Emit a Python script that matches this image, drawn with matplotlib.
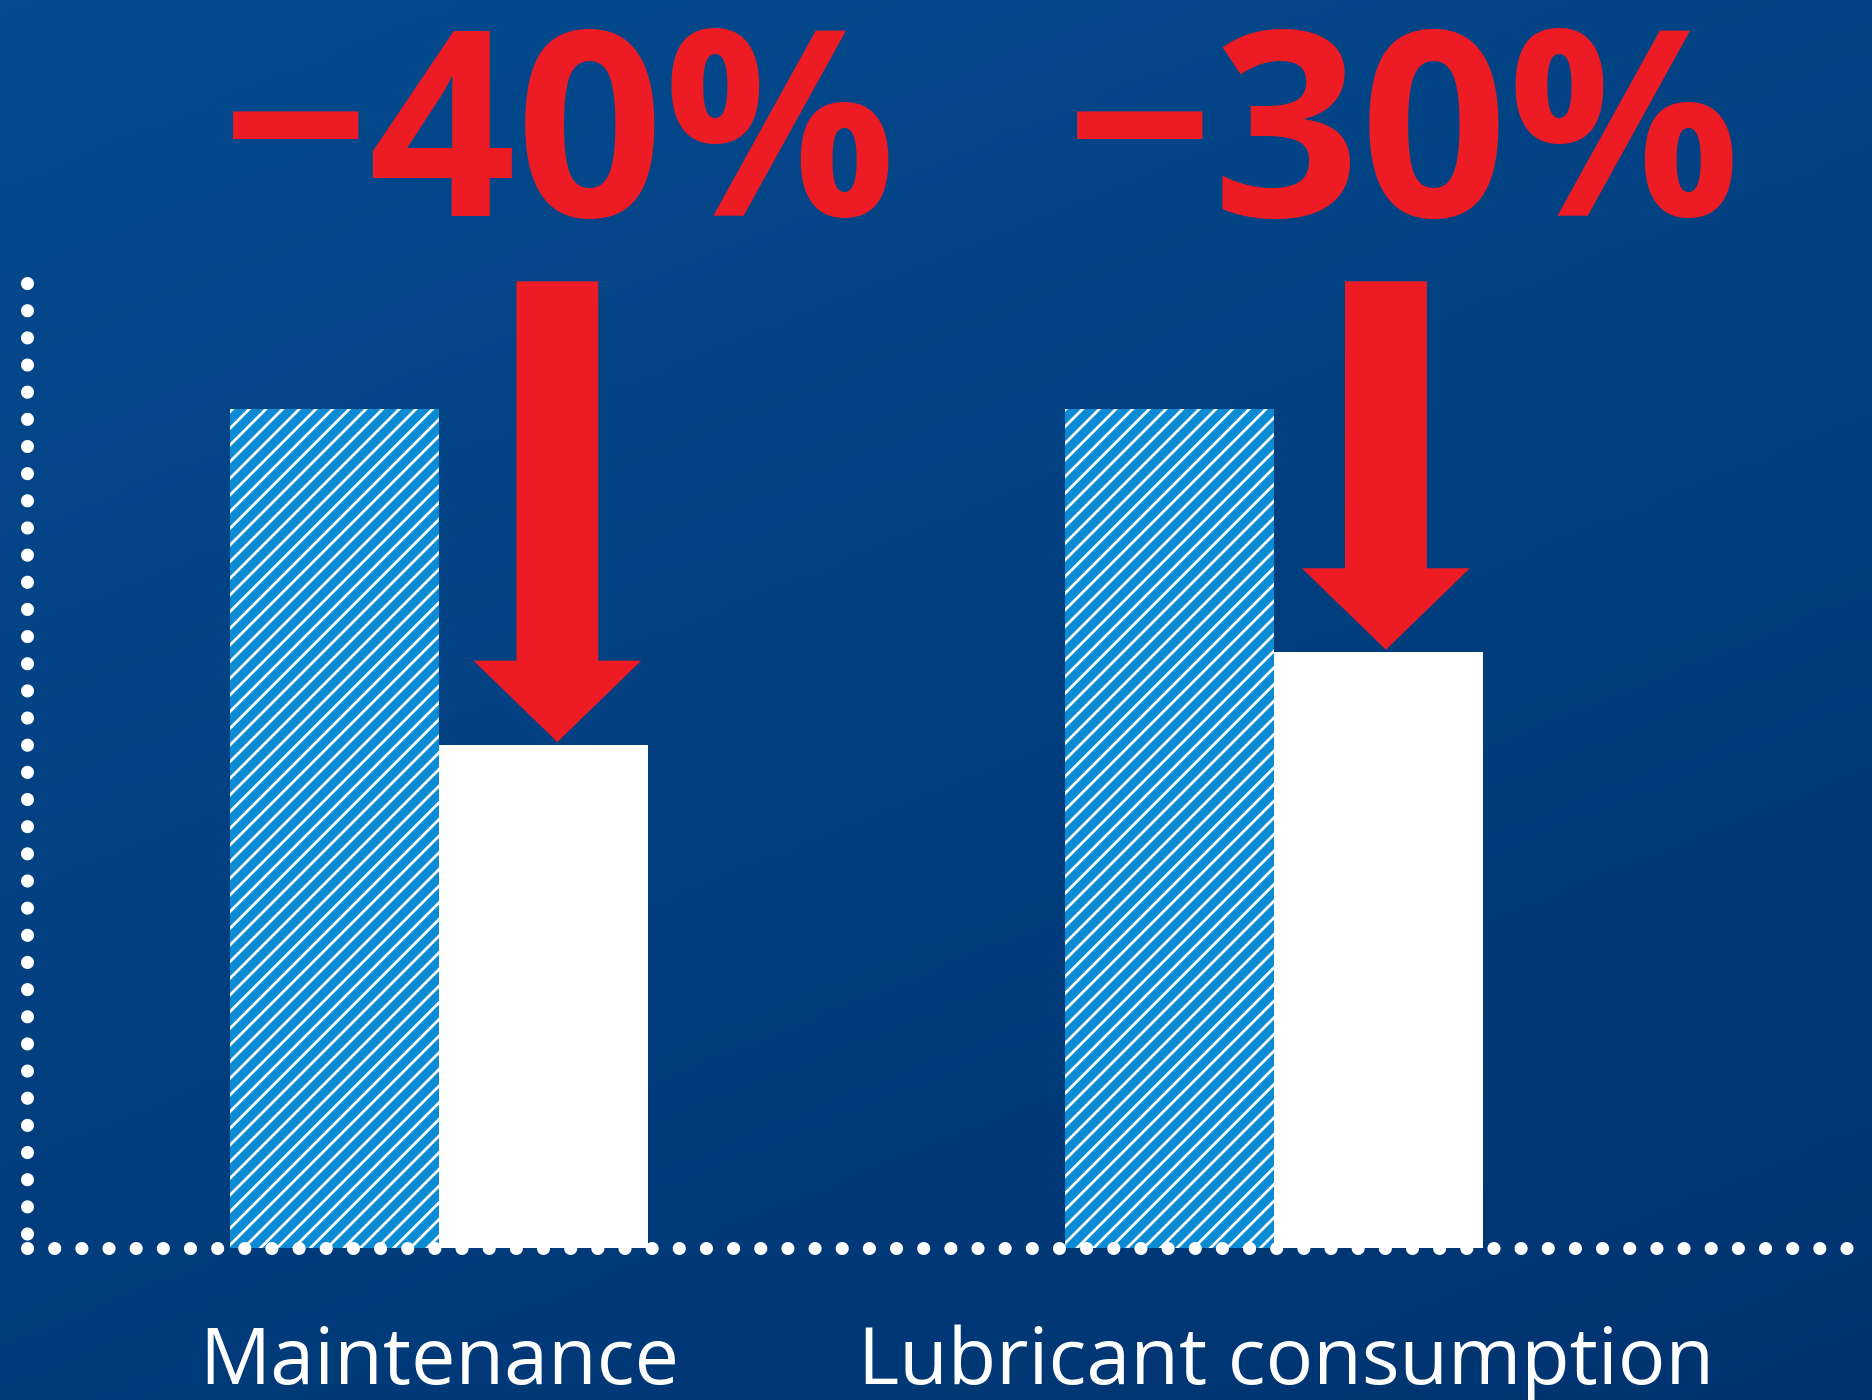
import numpy as np
import matplotlib
matplotlib.use("Agg")
import matplotlib.pyplot as plt
import matplotlib.transforms as mtransforms
from matplotlib.patches import FancyArrow
from matplotlib.colors import LinearSegmentedColormap

# data
categories = ["Maintenance", "Lubricant consumption"]
before = [100, 100]
after = [60, 71]
change_labels = ["\u221240%", "\u221230%"]

# small layout nudges (data units) for arrows / labels
arrow_nudge = [0.017, 0.009]
label_nudge = [0.02, 0.03]
cat_nudge = [0.0, 0.014]

red = "#ED1C24"
stripe_blue = "#0B8BD3"

plt.rcParams["hatch.linewidth"] = 6.5
plt.rcParams["font.family"] = ["Open Sans", "DejaVu Sans"]

fig = plt.figure(figsize=(18.72, 14), dpi=100)

# background gradient, lighter top-left to darker bottom-right
bg = fig.add_axes([0, 0, 1, 1])
bg.set_axis_off()
gy, gx = np.mgrid[0:1:200j, 0:1:200j]
grad = 0.35 * gx + 0.65 * gy
cmap = LinearSegmentedColormap.from_list("bgblue", ["#044B8F", "#003370"])
bg.imshow(grad, cmap=cmap, aspect="auto", extent=[0, 1, 0, 1], origin="upper")
bg.set_xlim(0, 1)
bg.set_ylim(0, 1)

ax = fig.add_axes([27 / 1872, 152 / 1400, 1 - 27 / 1872, 965 / 1400])
ax.set_facecolor("none")
ax.set_xlim(-0.493, 1.716)
ax.set_ylim(0, 115)
for s in ax.spines.values():
    s.set_visible(False)
ax.set_xticks([])
ax.set_yticks([])

x = np.arange(len(categories))
w = 0.25
ax.bar(x - w / 2, before, width=w, facecolor="white", edgecolor=stripe_blue,
       hatch="//", linewidth=0, zorder=2)
ax.bar(x + w / 2, after, width=w, color="white", linewidth=0, zorder=2)

# dotted axes
dot = dict(color="white", lw=9.4, dashes=(0.01, 2.07), dash_capstyle="round",
           transform=ax.transAxes, clip_on=False, zorder=3)
ax.plot([0, 0], [1, 0], **dot)
ax.plot([0, 1.05], [0, 0], **dot)

# arrows and percentage labels
top_tf = mtransforms.blended_transform_factory(ax.transData, fig.transFigure)
for i in range(len(categories)):
    xc = x[i] + w / 2 + arrow_nudge[i]
    top = 115.2
    arr = FancyArrow(xc, top, 0, -(top - after[i] - 0.3), width=0.098,
                     head_width=0.201, head_length=9.7, length_includes_head=True,
                     color=red, linewidth=0, clip_on=False, zorder=4)
    ax.add_patch(arr)
    ax.text(x[i] + w / 2 + label_nudge[i], 1 - 216 / 1400, change_labels[i],
            transform=top_tf, fontsize=186, fontweight="bold", color=red,
            ha="center", va="baseline", zorder=5)

for i, c in enumerate(categories):
    ax.text(x[i] + cat_nudge[i], (16 - 152) / 965, c, transform=ax.get_xaxis_transform(),
            fontsize=57, color="white", ha="center", va="baseline")

fig.savefig("out.png", dpi=100)
